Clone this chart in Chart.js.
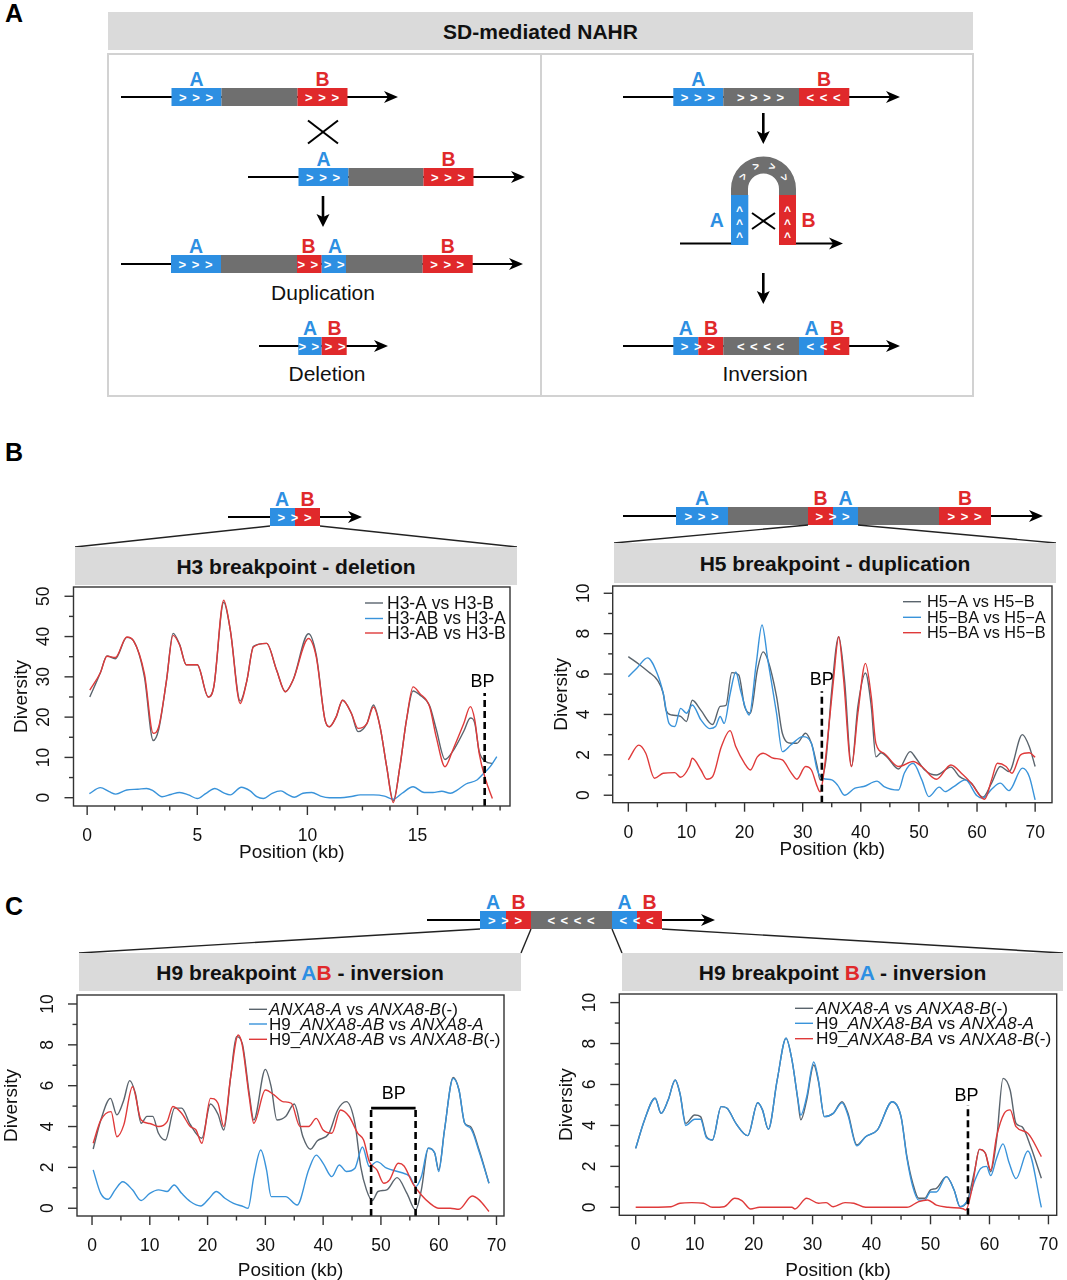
<!DOCTYPE html>
<html>
<head>
<meta charset="utf-8">
<script src="https://cdn.jsdelivr.net/npm/chart.js@4.4.1/dist/chart.umd.min.js"></script>
<style>
  body { margin: 0; background: #fff; }
  #page { position: relative; width: 1067px; height: 1280px; overflow: hidden; }
  #art { position: absolute; left: 0; top: 0; font-family: "Liberation Sans", Arial, sans-serif; }
  canvas { position: absolute; }
</style>
</head>
<body>
<div id="page">
  <svg id="art" width="1067" height="1280"></svg>
  <canvas id="h3Chart" width="535" height="290" style="left:0;top:580px"></canvas>
  <canvas id="h5Chart" width="532" height="290" style="left:535px;top:580px"></canvas>
  <canvas id="abChart" width="535" height="290" style="left:0;top:990px"></canvas>
  <canvas id="baChart" width="532" height="290" style="left:535px;top:990px"></canvas>
</div>
<script>
// ---- data ----

// H3 breakpoint - deletion
const h3Pos = [0.12, 0.6, 0.9, 1.28, 1.8, 2.1, 2.6, 3.0, 3.25, 3.6, 3.9, 4.2, 4.5, 5.0, 5.5, 5.75, 6.2, 6.5, 6.95, 7.25, 7.55, 8.15, 8.6, 9.0, 9.35, 10.05, 10.4, 10.8, 11.0, 11.3, 11.6, 12.0, 12.3, 12.7, 13.0, 13.3, 13.6, 13.9, 14.2, 14.5, 14.8, 15.1, 15.55, 15.85, 16.25, 16.6, 17.1, 17.4, 17.6, 17.8, 18.1, 18.4];
const h3AvsB = [25, 31, 35.2, 34.5, 39.8, 39.0, 30, 14.2, 17, 29, 40.8, 38, 33, 33, 25, 27.5, 48.5, 41.6, 24, 29, 37.6, 38.3, 31.7, 26.3, 29.2, 40.7, 35.5, 19.3, 17.6, 20, 24.2, 20.9, 16.4, 18.4, 23, 17.6, 7.7, -0.8, 7.7, 19.3, 26.5, 25.5, 22.8, 17, 9.5, 11.5, 16.5, 19.8, 18.5, 11.5, 9, 8.5];
const h3ABvsB = [26.7, 31, 35.1, 34.8, 39.9, 39.0, 30.8, 16, 17.6, 29, 40.3, 37.9, 33, 33, 25, 27.5, 49, 41.6, 23.4, 29, 37.4, 38.3, 31.7, 26.3, 29.2, 39.5, 35, 19.3, 17.6, 20, 24.2, 20.9, 17.2, 18.4, 22.5, 17.6, 7.7, -1.2, 7.7, 19.3, 27.5, 25.9, 22.6, 15.1, 7.7, 11.8, 18.4, 22.6, 19.3, 11, 4.4, -0.2];
const h3BluePos = [0.1, 0.6, 1.0, 1.3, 1.8, 2.3, 2.7, 3.0, 3.4, 3.8, 4.2, 4.6, 5.0, 5.4, 5.8, 6.2, 6.5, 7.0, 7.4, 7.7, 8.0, 8.4, 8.8, 9.1, 9.4, 9.8, 10.2, 10.6, 11.0, 11.5, 12.0, 12.4, 13.0, 13.5, 13.9, 14.3, 14.8, 15.3, 15.7, 16.1, 16.5, 16.8, 17.2, 17.7, 18.0, 18.3, 18.6];
const h3ABvsA = [1.0, 2.5, 1.5, 0.9, 1.9, 2.1, 2.3, 1.7, 0.25, 0.8, 1.3, 0.7, -0.2, 1.1, 2.3, 1.2, 0.7, 2.6, 1.7, 0.25, -0.2, 1.1, 1.7, 0.8, 0.1, 1.1, 1.3, 0.4, 0, 0, 0.3, 0.7, 0.7, 0.4, -0.4, 1.1, 2.7, 1.3, 1.3, 1.6, 1.1, 1.9, 3.4, 4.4, 6, 7.7, 10.2];
const h3Legend = ['H3-A vs H3-B', 'H3-AB vs H3-A', 'H3-AB vs H3-B'];
const h3XTicks = [0, 5, 10, 15];
const h3YTicks = [0, 10, 20, 30, 40, 50];

// H5 breakpoint - duplication
const h5DarkPos = [0, 2, 3.5, 5, 6, 6.5, 7.5, 9, 10, 11, 12.5, 14.5, 15.8, 16.8, 17.8, 19, 20, 21, 22.2, 23.2, 24, 25.5, 26.5, 28, 29, 30.5, 31.5, 32.5, 33, 34, 35, 36.2, 37.2, 38.4, 39.5, 40.8, 41.8, 42.6, 43.5, 44.5, 46.5, 48.5, 49.5, 51, 53, 55.5, 57, 59, 61, 62.5, 64, 65.5, 67.8, 69, 70];
const h5AvsB = [6.86, 6.45, 6.1, 5.7, 5.05, 4.2, 3.97, 3.9, 3.65, 4.7, 4.2, 3.5, 4.4, 4.45, 6.07, 5.95, 4.4, 4.06, 6.2, 7.1, 6.7, 4.9, 3.07, 2.57, 2.57, 3.07, 2.57, 1.42, 0.76, 1.75, 5.2, 7.85, 5.7, 1.42, 4.4, 6.05, 4.4, 1.9, 2.1, 1.9, 1.3, 2.16, 1.83, 1.25, 1.0, 1.39, 0.92, 0.6, -0.1, 0.6, 1.42, 1.17, 3.0, 2.4, 1.42];
const h5BluePos = [0, 1.5, 3.3, 5, 6, 7, 8, 9, 10, 11, 12.5, 14, 15, 15.8, 16.5, 17.5, 18.5, 19.3, 20.8, 22, 23, 24, 25.5, 26.5, 28, 30, 31.5, 32.5, 33.5, 35, 36, 37.2, 39, 40.5, 42.8, 44, 46.5, 47.5, 49, 50.5, 51.7, 53.5, 54.5, 56, 58, 60, 61, 62.5, 64, 65.5, 67.8, 69, 70];
const h5BAvsA = [5.87, 6.3, 6.8, 6.0, 5.05, 3.56, 3.4, 4.3, 4.06, 4.47, 3.73, 3.3, 3.4, 3.9, 3.56, 5.0, 6.1, 5.2, 3.97, 6.5, 8.43, 6.7, 4.06, 2.16, 2.5, 2.9, 2.57, 1.25, 0.84, 0.76, 0.5, 0, 0.35, 0.43, 0.7, 0.43, 0.26, 1.1, 1.58, 0.76, -0.07, 0.4, 0.18, 0.43, 0.76, -0.03, -0.15, 0.3, 0.6, 0.23, 1.34, 0.92, -0.23];
const h5RedPos = [0, 1.8, 3, 4.5, 6, 8, 9, 10.5, 11, 12.5, 13.5, 14.5, 16, 17.5, 18.5, 20, 21, 22.2, 23.2, 25, 26.5, 28, 29, 30.5, 31.5, 32.5, 33, 33.7, 34.5, 35.3, 36.2, 37, 38.4, 39.5, 40.8, 41.8, 42.6, 44, 46.5, 49, 50.5, 53, 55.5, 57.5, 59, 61.3, 62.5, 63.5, 65, 66, 67.5, 69, 70];
const h5BAvsB = [1.75, 2.48, 2.08, 0.84, 1.09, 1.12, 0.89, 1.42, 1.83, 1.25, 0.79, 0.92, 2.4, 3.2, 2.4, 1.58, 1.25, 1.9, 2.08, 1.83, 1.75, 1.12, 0.79, 1.42, 1.25, 0.43, 0.17, 1.25, 3.4, 5.7, 7.85, 5.87, 1.42, 4.06, 6.53, 4.88, 2.57, 2.08, 1.42, 1.67, 1.42, 0.79, 1.5, 1.04, 0.6, -0.2, 0.76, 1.58, 1.42, 1.09, 2.0, 2.1, 1.88];
const h5Legend = ['H5\u2212A vs H5\u2212B', 'H5\u2212BA vs H5\u2212A', 'H5\u2212BA vs H5\u2212B'];
const wideXTicks = [0, 10, 20, 30, 40, 50, 60, 70];
const smallYTicks = [0, 2, 4, 6, 8, 10];

// H9 breakpoint AB - inversion
const abDarkPos = [0.2, 1.5, 3.2, 4.3, 5.5, 6.5, 7.5, 8.5, 9.5, 10.5, 11.5, 12.7, 14.3, 15.5, 17, 19, 20.5, 21.8, 22.8, 24, 25, 26, 27.2, 28, 30, 31, 32, 33.5, 35, 36.5, 37.8, 39, 41, 42.5, 44, 45.5, 46.5, 47.5, 48.5, 49.5, 51, 52.8, 54.5, 56, 57, 58.2, 59.3, 60, 61, 62.5, 63.5, 64.5, 65.5, 67, 68.7];
const abAvsB = [2.9, 4.3, 5.38, 4.57, 5.3, 6.25, 5.63, 4.16, 4.5, 4.5, 3.67, 3.34, 4.9, 4.9, 4.1, 3.43, 5.1, 4.6, 3.83, 6.44, 8.4, 8.07, 5.63, 4.32, 6.8, 5.95, 4.32, 4.49, 5.1, 3.5, 2.89, 3.3, 3.67, 4.81, 5.22, 4.16, 2.04, 0.9, 0.38, 0.82, 0.9, 1.5, 0.73, -0.08, 0.9, 2.94, 2.7, 1.88, 3.83, 6.4, 5.8, 4.16, 4.0, 2.85, 1.22];
const abBluePos = [0.2, 1.5, 2.8, 4, 5.3, 7, 8.5, 10, 11.5, 13, 14.2, 15.5, 17, 18.8, 20.3, 21.5, 23, 24.5, 26.2, 27, 28, 29.2, 30.2, 31, 33.5, 35.5, 37.5, 38.8, 40, 41.5, 42.8, 44, 45.5, 46.8, 48, 49.3, 51, 53.5, 55, 56, 57, 58.2, 59.3, 60, 61, 62.5, 63.5, 64.5, 65.5, 67, 68.7];
const abABvsA = [1.88, 0.73, 0.44, 0.9, 1.3, 0.9, 0.38, 0.73, 0.9, 0.82, 1.14, 0.73, 0.33, 0.11, 0.49, 0.82, 0.49, 0.24, 0.08, 0, 1.55, 2.85, 1.88, 0.57, 0.57, 0.16, 1.88, 2.6, 2.2, 1.55, 2.12, 1.8, 1.96, 3.0, 2.04, 2.28, 1.96, 1.75, 1.55, 1.06, 1.55, 2.94, 2.7, 1.8, 3.83, 6.36, 5.8, 4.16, 3.92, 2.77, 1.22];
const abRedPos = [0.2, 1.5, 3.3, 4.3, 5.5, 7, 8.5, 10, 11.5, 13, 14, 15.5, 17, 18, 19, 20.5, 21.8, 22.8, 24, 25.3, 26, 27.2, 28, 30, 31.5, 33, 34.5, 36, 37.5, 38.8, 40, 41.5, 43, 44.5, 46, 47, 48, 49.3, 50.5, 51.5, 53, 54, 55.5, 57, 58.5, 60, 62, 63.5, 65.8, 67, 68.7];
const abABvsB = [3.18, 4.3, 4.73, 3.5, 4.08, 5.95, 4.32, 4.15, 4.0, 4.24, 4.98, 4.65, 4.0, 3.83, 3.18, 5.38, 5.14, 4.0, 6.44, 8.48, 7.99, 5.46, 4.16, 5.79, 5.55, 5.22, 5.14, 4.0, 4.0, 4.4, 3.83, 3.67, 4.81, 4.49, 3.67, 3.34, 2.28, 1.88, 1.22, 1.39, 2.2, 2.07, 1.22, 0.65, 0.24, 0, 0, -0.05, 0.6, 0.41, -0.16];
const abLegend = ['*ANXA8-A* vs *ANXA8-B*(-)', 'H9_*ANXA8-AB* vs *ANXA8-A*', 'H9_*ANXA8-AB* vs *ANXA8-B*(-)'];

// H9 breakpoint BA - inversion
const baDarkPos = [0, 1.5, 3.3, 4.3, 5.5, 6.7, 7.5, 8.5, 10, 11, 12, 13, 14.5, 15.5, 17, 19, 20.7, 21.5, 22.5, 24, 25.5, 26.5, 27.5, 28, 29, 30.2, 31, 32, 33.5, 35, 36, 37.5, 39, 41, 43.5, 45, 46, 47, 48, 49, 50, 51, 52.7, 54, 55, 56.3, 57.5, 58.3, 59.3, 60.2, 61.2, 62.3, 63.5, 64.5, 65.5, 67, 68.8];
const baAvsB = [2.88, 4.27, 5.33, 4.59, 5.24, 6.22, 5.57, 4.1, 4.51, 4.43, 3.45, 3.29, 4.92, 4.84, 4.1, 3.5, 5.11, 4.76, 3.81, 6.22, 8.26, 7.2, 5.24, 4.27, 5.24, 6.95, 6.14, 4.43, 4.59, 5.16, 4.59, 3.05, 3.45, 3.78, 5.16, 4.43, 2.48, 1.17, 0.44, 0.44, 0.85, 0.93, 1.5, 0.85, 0.03, 0.36, 1.82, 2.83, 2.64, 1.74, 3.29, 6.3, 5.73, 4.1, 3.94, 2.96, 1.42];
const baBluePos = [0, 1.5, 3.3, 4.3, 5.5, 6.7, 7.5, 8.5, 10, 11, 12, 13, 14.5, 15.5, 17, 19, 20.7, 21.5, 22.5, 24, 25.5, 26.5, 27.5, 28, 29, 30.2, 31, 32, 33.5, 35, 36, 37.5, 39, 41, 43.5, 45, 46, 47, 48, 49, 50, 51, 52.7, 54, 55, 56.5, 57.5, 58.5, 59.5, 60.2, 61.2, 62.3, 63.3, 64.5, 66.5, 68.8];
const baBAvsA = [2.88, 4.27, 5.33, 4.59, 5.24, 6.22, 5.57, 4.0, 4.3, 4.3, 3.4, 3.29, 4.92, 4.84, 4.1, 3.5, 5.11, 4.76, 3.81, 6.22, 8.26, 7.2, 5.3, 4.5, 5.4, 7.1, 6.2, 4.43, 4.59, 5.1, 4.5, 3.0, 3.45, 3.78, 5.16, 4.43, 2.4, 1.0, 0.35, 0.35, 0.75, 0.75, 1.5, 0.85, 0.03, 0.45, 1.3, 1.9, 2.0, 1.55, 2.4, 3.1, 2.2, 1.4, 2.75, 0];
const baRedPos = [0, 6, 7.5, 9.5, 11.5, 13, 15, 16.8, 18, 19.5, 21, 26.5, 27, 29, 31, 32.3, 33.5, 35.5, 37, 39, 46, 48, 49.5, 51, 53, 55.5, 56, 57, 58.3, 59.3, 60.2, 61.2, 62.5, 63.5, 64.5, 66.5, 68.8];
const baBAvsB = [0, 0.03, 0.2, 0.23, 0.2, 0, 0.03, 0.44, 0.33, -0.08, 0, 0, -0.08, 0.44, 0.2, 0.23, 0.03, 0.23, 0.2, 0, 0, 0.28, 0.36, 0.11, 0, -0.07, -0.13, 0.85, 2.83, 2.64, 1.82, 3.45, 4.59, 4.76, 3.94, 3.62, 2.48];
const baLegend = ['*ANXA8-A* vs *ANXA8-B*(-)', 'H9_*ANXA8-BA* vs *ANXA8-A*', 'H9_*ANXA8-BA* vs *ANXA8-B*(-)'];

// ---- colours ----
const DARK = '#5a646d';
const BLUE = '#3993da';
const RED = '#df3a3a';
const BOX_BLUE = '#2d8fe2';
const BOX_RED = '#e0292b';
const BOX_GREY = '#6f6f6f';
const FONT = '"Liberation Sans", Arial, sans-serif';

function pts(xs, ys) {
    return xs.map((x, i) => ({ x: x, y: ys[i] }));
}

// draws a string where *...* parts are italic
function mixedText(ctx, str, x, y, size) {
    const parts = str.split('*');
    let cx = x;
    parts.forEach((p, i) => {
        ctx.font = (i % 2 ? 'italic ' : '') + size + 'px ' + FONT;
        ctx.fillText(p, cx, y);
        cx += ctx.measureText(p).width;
    });
}

// R-like frame, ticks, labels, legend and breakpoint markers
const rStyle = {
    id: 'rStyle',
    afterDraw(chart, args, o) {
        const { ctx, chartArea: a, scales: { x, y } } = chart;
        ctx.save();

        // breakpoint marker
        ctx.strokeStyle = '#000';
        ctx.lineWidth = 2.6;
        ctx.setLineDash([7, 4]);
        const topPx = y.getPixelForValue(o.bp.top);
        o.bp.xs.forEach(v => {
            const px = x.getPixelForValue(v);
            ctx.beginPath();
            ctx.moveTo(px, a.bottom);
            ctx.lineTo(px, topPx);
            ctx.stroke();
        });
        ctx.setLineDash([]);
        if (o.bp.xs.length === 2) {
            ctx.beginPath();
            ctx.moveTo(x.getPixelForValue(o.bp.xs[0]), topPx);
            ctx.lineTo(x.getPixelForValue(o.bp.xs[1]), topPx);
            ctx.stroke();
        }
        ctx.fillStyle = '#000';
        ctx.font = '18px ' + FONT;
        ctx.textAlign = 'center';
        ctx.textBaseline = 'middle';
        ctx.fillText('BP', x.getPixelForValue(o.bp.labelX), y.getPixelForValue(o.bp.labelY));

        // frame
        ctx.strokeStyle = '#333';
        ctx.lineWidth = 1.4;
        ctx.strokeRect(a.left, a.top, a.width, a.height);

        // x axis ticks
        ctx.font = '17.5px ' + FONT;
        ctx.fillStyle = '#111';
        const xLast = o.xTicks[o.xTicks.length - 1] + o.xTickTail;
        for (let i = 0; o.xTicks[0] + i * o.xStep <= xLast + 1e-9; i++) {
            const v = o.xTicks[0] + i * o.xStep;
            const px = x.getPixelForValue(v);
            const major = o.xTicks.some(t => Math.abs(t - v) < 1e-6);
            ctx.beginPath();
            ctx.moveTo(px, a.bottom);
            ctx.lineTo(px, a.bottom + (major ? 9 : 4.5));
            ctx.stroke();
        }
        o.xTicks.forEach(v => {
            ctx.fillText(String(v), x.getPixelForValue(v), a.bottom + 30);
        });

        // y axis ticks, labels parallel to the axis
        const yLast = o.yTicks[o.yTicks.length - 1];
        for (let i = 0; o.yTicks[0] + i * o.yStep <= yLast + 1e-9; i++) {
            const v = o.yTicks[0] + i * o.yStep;
            const py = y.getPixelForValue(v);
            const major = o.yTicks.some(t => Math.abs(t - v) < 1e-6);
            ctx.beginPath();
            ctx.moveTo(a.left, py);
            ctx.lineTo(a.left - (major ? 9 : 4.5), py);
            ctx.stroke();
        }
        o.yTicks.forEach(v => {
            ctx.save();
            ctx.translate(a.left - 29, y.getPixelForValue(v));
            ctx.rotate(-Math.PI / 2);
            ctx.fillText(String(v), 0, 0);
            ctx.restore();
        });

        // axis titles
        ctx.font = '19px ' + FONT;
        ctx.fillText('Position (kb)', (a.left + a.right) / 2, a.bottom + o.xTitleGap);
        ctx.save();
        ctx.translate(a.left + o.yTitleGap, (a.top + a.bottom) / 2);
        ctx.rotate(-Math.PI / 2);
        ctx.fillText('Diversity', 0, 0);
        ctx.restore();

        // legend, no box, like R
        ctx.textAlign = 'left';
        ctx.lineWidth = 1.4;
        o.legend.labels.forEach((lab, i) => {
            const ly = a.top + o.legend.rows[i];
            ctx.strokeStyle = o.legend.colors[i];
            ctx.beginPath();
            ctx.moveTo(a.right + o.legend.lineX, ly);
            ctx.lineTo(a.right + o.legend.lineX + 18, ly);
            ctx.stroke();
            ctx.fillStyle = '#111';
            mixedText(ctx, lab, a.right + o.legend.textX, ly + 1, o.legend.size);
        });
        ctx.restore();
    }
};

function makeChart(id, series, opts) {
    const canvas = document.getElementById(id);
    new Chart(canvas.getContext('2d'), {
        type: 'line',
        data: {
            datasets: series.map((s, i) => ({
                data: s.data,
                borderColor: s.color,
                borderWidth: 1.4,
                fill: false,
                pointRadius: 0,
                cubicInterpolationMode: 'monotone',
                order: 3 - i
            }))
        },
        options: {
            responsive: false,
            animation: false,
            layout: { padding: opts.padding },
            scales: {
                x: { type: 'linear', min: opts.xMin, max: opts.xMax, display: false },
                y: { type: 'linear', min: opts.yMin, max: opts.yMax, display: false }
            },
            plugins: {
                legend: { display: false },
                tooltip: { enabled: false },
                rStyle: opts.r
            }
        },
        plugins: [rStyle]
    });
}

makeChart('h3Chart', [
    { data: pts(h3Pos, h3AvsB), color: DARK },
    { data: pts(h3BluePos, h3ABvsA), color: BLUE },
    { data: pts(h3Pos, h3ABvsB), color: RED }
], {
    padding: { left: 73.5, top: 7, right: 25, bottom: 64 },
    xMin: -0.62, xMax: 19.2, yMin: -2.06, yMax: 52.3,
    r: {
        xTicks: h3XTicks, xStep: 1.25, xTickTail: 3.75,
        yTicks: h3YTicks, yStep: 5,
        xTitleGap: 47, yTitleGap: -51.5,
        bp: { xs: [18.05], top: 26, labelX: 17.95, labelY: 28.6 },
        legend: { labels: h3Legend, colors: [DARK, BLUE, RED], rows: [16, 31.5, 46], lineX: -145, textX: -123, size: 17.5 }
    }
});

makeChart('h5Chart', [
    { data: pts(h5DarkPos, h5AvsB), color: DARK },
    { data: pts(h5BluePos, h5BAvsA), color: BLUE },
    { data: pts(h5RedPos, h5BAvsB), color: RED }
], {
    padding: { left: 77.7, top: 6, right: 15, bottom: 67.3 },
    xMin: -2.69, xMax: 72.9, yMin: -0.37, yMax: 10.36,
    r: {
        xTicks: wideXTicks, xStep: 5, xTickTail: 0,
        yTicks: smallYTicks, yStep: 1,
        xTitleGap: 47, yTitleGap: -51,
        bp: { xs: [33.3], top: 5.15, labelX: 33.3, labelY: 5.7 },
        legend: { labels: h5Legend, colors: [DARK, BLUE, RED], rows: [15.7, 31.3, 46.7], lineX: -149, textX: -125, size: 16.3 }
    }
});

makeChart('abChart', [
    { data: pts(abDarkPos, abAvsB), color: DARK },
    { data: pts(abBluePos, abABvsA), color: BLUE },
    { data: pts(abRedPos, abABvsB), color: RED }
], {
    padding: { left: 77, top: 5, right: 31, bottom: 64 },
    xMin: -2.6, xMax: 71.3, yMin: -0.38, yMax: 10.44,
    r: {
        xTicks: wideXTicks, xStep: 5, xTickTail: 0,
        yTicks: smallYTicks, yStep: 1,
        xTitleGap: 55, yTitleGap: -65,
        bp: { xs: [48.3, 56.0], top: 4.9, labelX: 52.2, labelY: 5.6 },
        legend: { labels: abLegend, colors: [DARK, BLUE, RED], rows: [14.3, 29, 44.3], lineX: -255, textX: -235, size: 17 }
    }
});

makeChart('baChart', [
    { data: pts(baDarkPos, baAvsB), color: DARK },
    { data: pts(baBluePos, baBAvsA), color: BLUE },
    { data: pts(baRedPos, baBAvsB), color: RED }
], {
    padding: { left: 84.3, top: 4, right: 10.3, bottom: 64.7 },
    xMin: -2.78, xMax: 71.4, yMin: -0.39, yMax: 10.42,
    r: {
        xTicks: wideXTicks, xStep: 5, xTickTail: 0,
        yTicks: smallYTicks, yStep: 1,
        xTitleGap: 55, yTitleGap: -53,
        bp: { xs: [56.35], top: 5.0, labelX: 56.1, labelY: 5.45 },
        legend: { labels: baLegend, colors: [DARK, BLUE, RED], rows: [14.3, 29.3, 44.7], lineX: -261.7, textX: -240.7, size: 17.3 }
    }
});

// ---- schematic drawings (svg) ----
const NS = 'http://www.w3.org/2000/svg';
const art = document.getElementById('art');

function svg(tag, attrs, txt) {
    const e = document.createElementNS(NS, tag);
    for (const k in attrs) e.setAttribute(k, attrs[k]);
    if (txt != null) e.textContent = txt;
    art.appendChild(e);
    return e;
}
function rule(x1, y1, x2, y2, w) {
    svg('line', { x1, y1, x2, y2, stroke: '#000', 'stroke-width': w || 2 });
}
function arrowRight(x1, x2, y) {
    rule(x1, y, x2 - 8, y, 2);
    svg('path', { d: `M${x2} ${y} L${x2 - 14} ${y - 6} L${x2 - 10} ${y} L${x2 - 14} ${y + 6} Z`, fill: '#000' });
}
function arrowDown(x, y1, y2) {
    rule(x, y1, x, y2 - 8, 2.6);
    svg('path', { d: `M${x} ${y2} L${x - 6.5} ${y2 - 13} L${x} ${y2 - 10} L${x + 6.5} ${y2 - 13} Z`, fill: '#000' });
}
function block(x1, x2, y, fill) {
    svg('rect', { x: x1, y: y - 9, width: x2 - x1, height: 18, fill });
}
function chev(x, y, t) {
    svg('text', { x, y: y + 4.5, fill: '#fff', 'font-size': 13, 'font-weight': 'bold', 'text-anchor': 'middle', 'letter-spacing': 1 }, t);
}
function letter(x, y, t, fill) {
    svg('text', { x, y, fill, 'font-size': 19.5, 'font-weight': 'bold', 'text-anchor': 'middle' }, t);
}
function cross(x, y, sx, sy) {
    rule(x - sx, y - sy, x + sx, y + sy, 2);
    rule(x - sx, y + sy, x + sx, y - sy, 2);
}
function caption(x, y, t) {
    svg('text', { x, y, fill: '#111', 'font-size': 21, 'text-anchor': 'middle' }, t);
}
function header(x1, x2, y1, y2, parts) {
    svg('rect', { x: x1, y: y1, width: x2 - x1, height: y2 - y1, fill: '#dadada' });
    const t = svg('text', { x: (x1 + x2) / 2, y: (y1 + y2) / 2 + 7.5, 'font-size': 21, 'font-weight': 'bold', 'text-anchor': 'middle', fill: '#111' });
    parts.forEach(p => {
        const s = document.createElementNS(NS, 'tspan');
        s.textContent = p[0];
        s.setAttribute('fill', p[1] || '#111');
        t.appendChild(s);
    });
}
function zoomLine(x1, y1, x2, y2) {
    svg('line', { x1, y1, x2, y2, stroke: '#222', 'stroke-width': 1.4 });
}

// panel letters
svg('text', { x: 5, y: 22, 'font-size': 25, 'font-weight': 'bold', fill: '#000' }, 'A');
svg('text', { x: 5, y: 461, 'font-size': 25, 'font-weight': 'bold', fill: '#000' }, 'B');
svg('text', { x: 5, y: 915, 'font-size': 25, 'font-weight': 'bold', fill: '#000' }, 'C');

// panel A
header(108, 973, 12, 50, [['SD-mediated NAHR']]);
svg('rect', { x: 108, y: 54, width: 865, height: 342, fill: 'none', stroke: '#d2d2d2', 'stroke-width': 2 });
svg('line', { x1: 541, y1: 54, x2: 541, y2: 396, stroke: '#d2d2d2', 'stroke-width': 2 });

// duplication / deletion
arrowRight(121, 398, 97);
block(171.5, 221.5, 97, BOX_BLUE); block(221.5, 297.5, 97, BOX_GREY); block(297.5, 347.5, 97, BOX_RED);
chev(196.5, 97, '> > >'); chev(322.5, 97, '> > >');
letter(196.5, 86, 'A', BOX_BLUE); letter(322.5, 86, 'B', BOX_RED);
cross(323, 132, 15, 11.5);
arrowRight(248, 525, 177);
block(298.5, 348.5, 177, BOX_BLUE); block(348.5, 423.5, 177, BOX_GREY); block(423.5, 473.5, 177, BOX_RED);
chev(323.5, 177, '> > >'); chev(448.5, 177, '> > >');
letter(323.5, 166, 'A', BOX_BLUE); letter(448.5, 166, 'B', BOX_RED);
arrowDown(323, 196, 227);
arrowRight(121, 523, 264);
block(171, 221, 264, BOX_BLUE); block(221, 297, 264, BOX_GREY); block(297, 321.7, 264, BOX_RED);
block(321.7, 346, 264, BOX_BLUE); block(346, 422.7, 264, BOX_GREY); block(422.7, 472.7, 264, BOX_RED);
chev(196, 264, '> > >'); chev(321.5, 264, '> > > >'); chev(447.7, 264, '> > >');
letter(196, 253, 'A', BOX_BLUE); letter(308.5, 253, 'B', BOX_RED); letter(335, 253, 'A', BOX_BLUE); letter(447.7, 253, 'B', BOX_RED);
caption(323, 300, 'Duplication');
arrowRight(259, 388, 346);
block(298.3, 321.7, 346, BOX_BLUE); block(321.7, 346.7, 346, BOX_RED);
chev(322.5, 346, '> > > >');
letter(310, 335, 'A', BOX_BLUE); letter(334.5, 335, 'B', BOX_RED);
caption(327, 381, 'Deletion');

// inversion
arrowRight(623, 900, 97);
block(673.3, 723.3, 97, BOX_BLUE); block(723.3, 799, 97, BOX_GREY); block(799, 849.3, 97, BOX_RED);
chev(698.3, 97, '> > >'); chev(761, 97, '> > > >'); chev(824, 97, '< < <');
letter(698.3, 86, 'A', BOX_BLUE); letter(824, 86, 'B', BOX_RED);
arrowDown(763.3, 113, 144);
svg('path', { d: 'M731 196 L731 189 A32.5 32.5 0 0 1 796 189 L796 196 L779 196 L779 189 A15.5 15.5 0 0 0 748 189 L748 196 Z', fill: BOX_GREY });
svg('rect', { x: 731, y: 195, width: 17.3, height: 50, fill: BOX_BLUE });
svg('rect', { x: 779, y: 195, width: 17, height: 50, fill: BOX_RED });
rule(680, 243.5, 731, 243.5, 2);
arrowRight(796, 843, 243.5);
[[150, 742.7, 177], [110, 755.3, 166.4], [70, 771.7, 166.4], [30, 784.3, 177]].forEach(c => {
    const t = svg('text', { x: c[1], y: c[2] + 5, fill: '#fff', 'font-size': 12, 'font-weight': 'bold', 'text-anchor': 'middle' }, '^');
    t.setAttribute('transform', `rotate(${180 - c[0]} ${c[1]} ${c[2]})`);
});
[209, 222, 235].forEach(yy => {
    svg('text', { x: 739.6, y: yy + 6, fill: '#fff', 'font-size': 12, 'font-weight': 'bold', 'text-anchor': 'middle' }, '^');
    svg('text', { x: 787.5, y: yy + 6, fill: '#fff', 'font-size': 12, 'font-weight': 'bold', 'text-anchor': 'middle' }, '^');
});
svg('text', { x: 716.7, y: 227, fill: BOX_BLUE, 'font-size': 19.5, 'font-weight': 'bold', 'text-anchor': 'middle' }, 'A');
svg('text', { x: 808.5, y: 227, fill: BOX_RED, 'font-size': 19.5, 'font-weight': 'bold', 'text-anchor': 'middle' }, 'B');
cross(763.5, 221, 11.5, 8);
arrowDown(763.3, 273, 304);
arrowRight(623, 900, 346);
block(673.3, 698.3, 346, BOX_BLUE); block(698.3, 723.3, 346, BOX_RED); block(723.3, 799, 346, BOX_GREY);
block(799, 824, 346, BOX_BLUE); block(824, 849.3, 346, BOX_RED);
chev(698.3, 346, '> > >'); chev(761, 346, '< < < <'); chev(824, 346, '< < <');
letter(685.8, 335, 'A', BOX_BLUE); letter(711, 335, 'B', BOX_RED); letter(811.5, 335, 'A', BOX_BLUE); letter(837, 335, 'B', BOX_RED);
caption(765, 381, 'Inversion');

// panel B schematics
arrowRight(228, 362, 517);
block(270, 295, 517, BOX_BLUE); block(295, 320, 517, BOX_RED);
chev(295, 517, '> > >');
letter(282, 506, 'A', BOX_BLUE); letter(307.5, 506, 'B', BOX_RED);
zoomLine(270, 526, 75, 547); zoomLine(320, 526, 517, 547);
header(75, 517, 547, 585, [['H3 breakpoint - deletion']]);

arrowRight(623, 1043, 516);
block(676, 728, 516, BOX_BLUE); block(728, 808, 516, BOX_GREY); block(808, 833, 516, BOX_RED);
block(833, 858, 516, BOX_BLUE); block(858, 939, 516, BOX_GREY); block(939, 991, 516, BOX_RED);
chev(702, 516, '> > >'); chev(833, 516, '> > >'); chev(965, 516, '> > >');
letter(702, 505, 'A', BOX_BLUE); letter(820.5, 505, 'B', BOX_RED); letter(845.5, 505, 'A', BOX_BLUE); letter(965, 505, 'B', BOX_RED);
zoomLine(808, 525, 614, 543); zoomLine(858, 525, 1056, 543);
header(614, 1056, 543, 583, [['H5 breakpoint - duplication']]);

// panel C schematic
arrowRight(427, 715, 920);
block(480, 506, 920, BOX_BLUE); block(506, 531, 920, BOX_RED); block(531, 612, 920, BOX_GREY);
block(612, 637, 920, BOX_BLUE); block(637, 662, 920, BOX_RED);
chev(505.5, 920, '> > >'); chev(571.5, 920, '< < < <'); chev(637, 920, '< < <');
letter(493, 909, 'A', BOX_BLUE); letter(518.5, 909, 'B', BOX_RED); letter(624.5, 909, 'A', BOX_BLUE); letter(649.5, 909, 'B', BOX_RED);
zoomLine(480, 929, 79, 953); zoomLine(531, 929, 521, 953);
zoomLine(612, 929, 622, 953); zoomLine(662, 929, 1063, 953);
header(79, 521, 953, 991, [['H9 breakpoint '], ['A', BOX_BLUE], ['B', BOX_RED], [' - inversion']]);
header(622, 1063, 953, 991, [['H9 breakpoint '], ['B', BOX_RED], ['A', BOX_BLUE], [' - inversion']]);
</script>
</body>
</html>
